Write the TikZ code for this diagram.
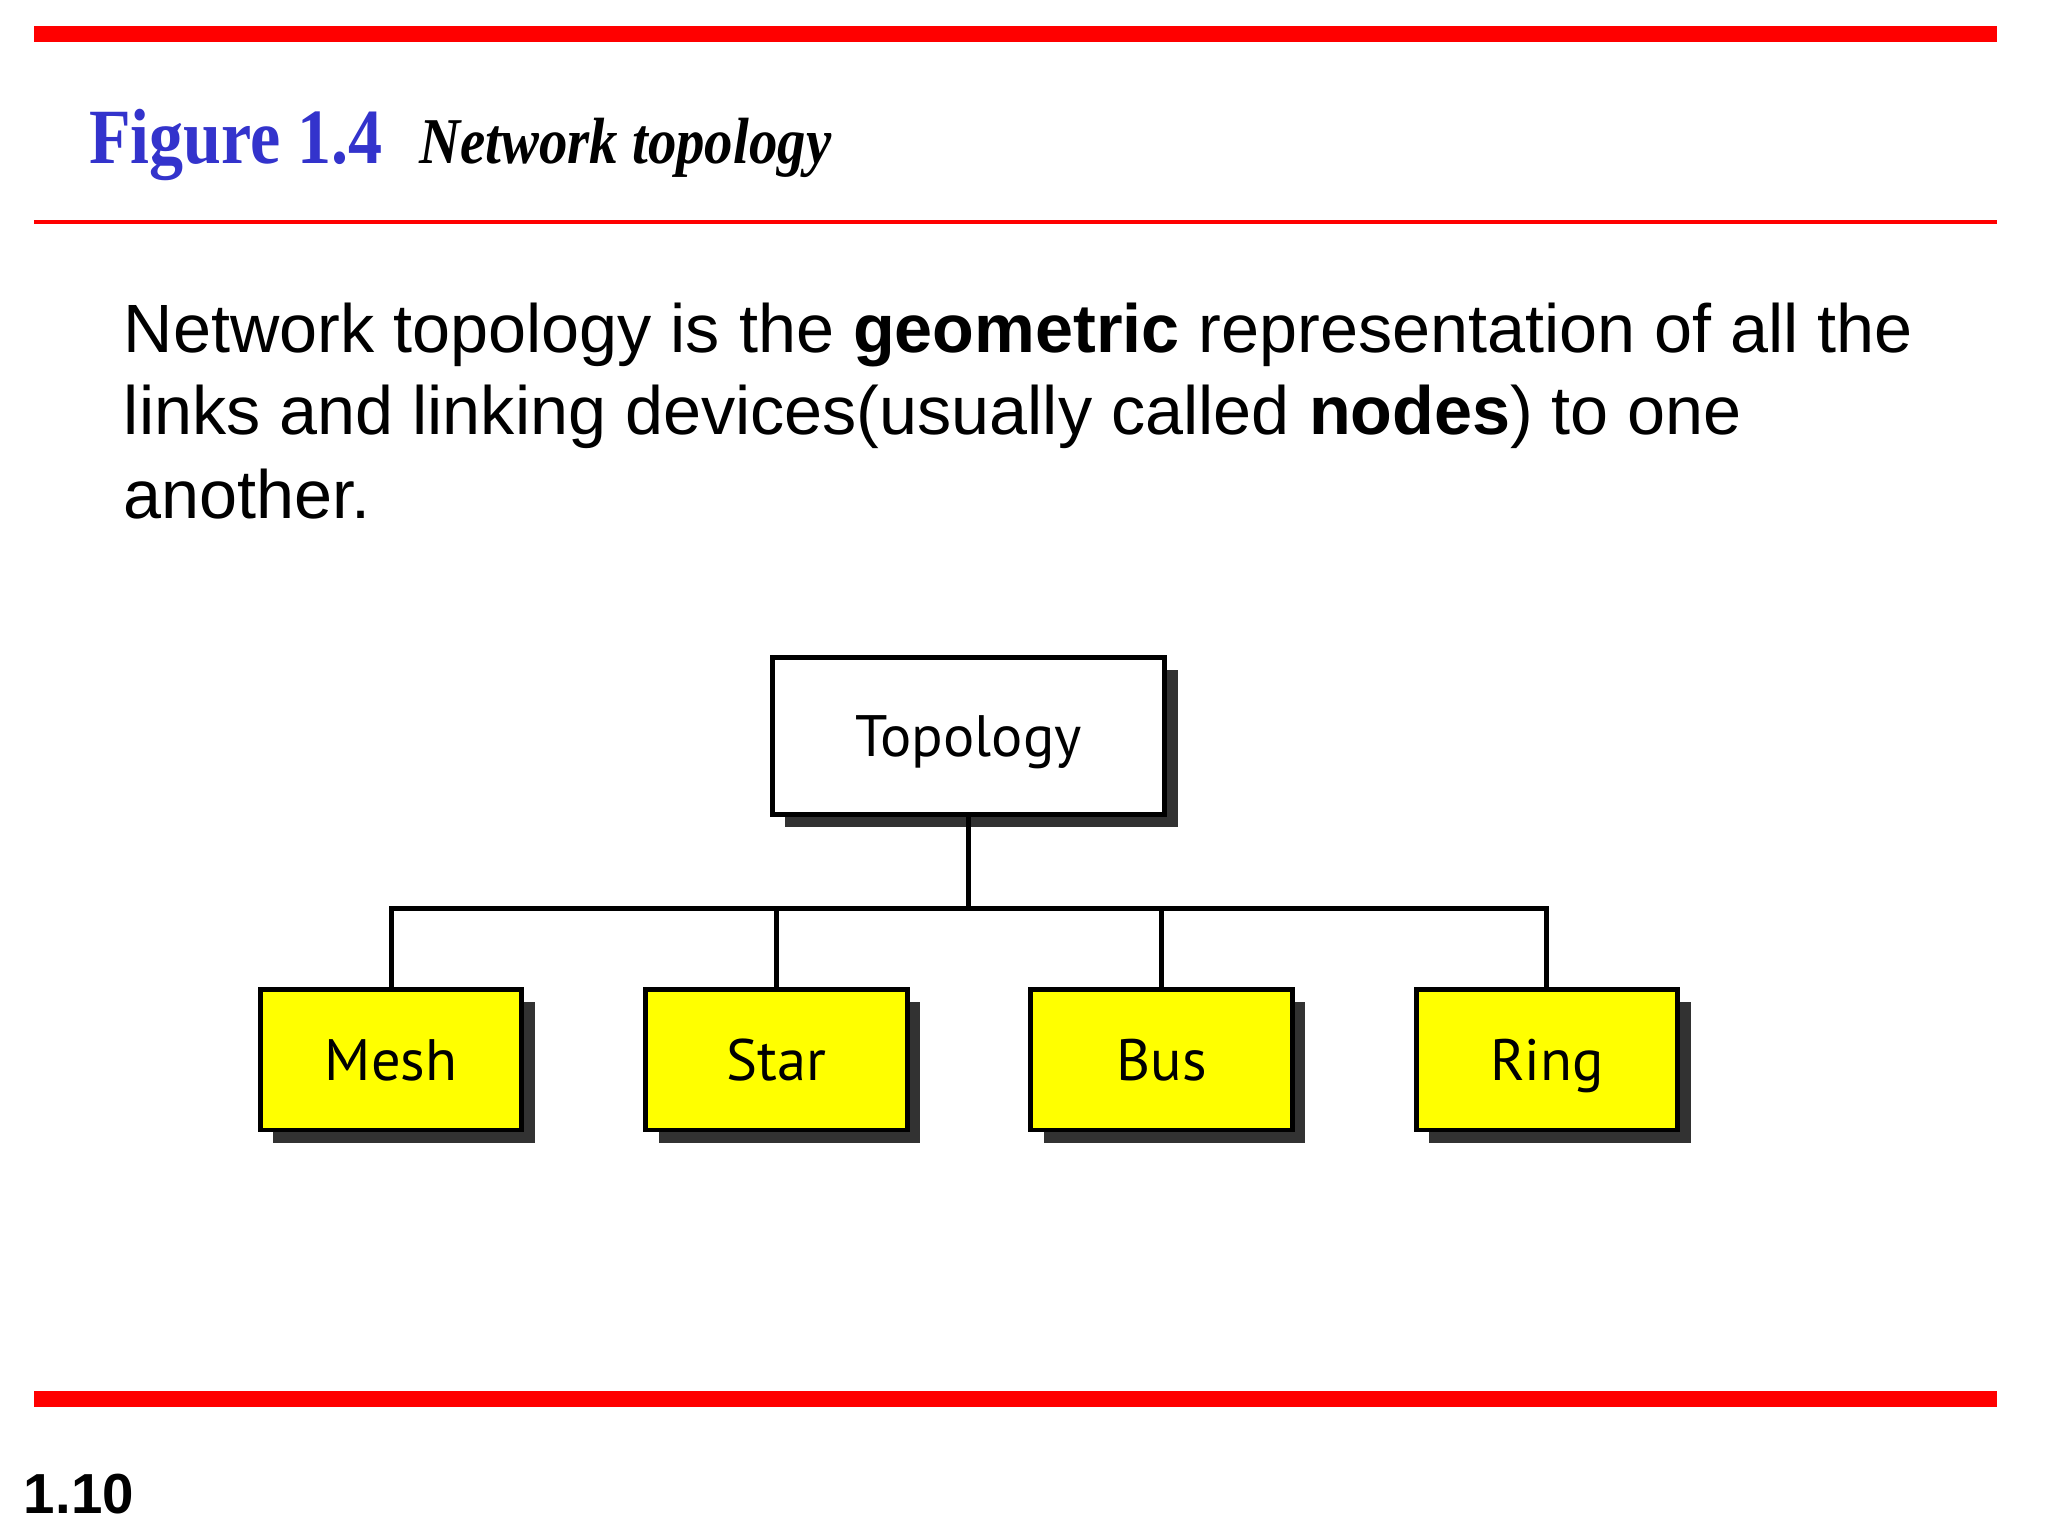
\documentclass[tikz,border=0pt]{standalone}
\usepackage{fontspec}
\setmainfont{Liberation Sans}
\newfontfamily\titlefont[FakeStretch=0.87]{Liberation Serif}
\newfontfamily\boxfont{PT Sans}
\usetikzlibrary{positioning, shadows}
\definecolor{figblue}{RGB}{51,51,204}
\definecolor{barred}{RGB}{255,0,0}
\definecolor{leafyellow}{RGB}{255,255,0}
\definecolor{shadowgray}{RGB}{50,50,50}

\begin{document}
\begin{tikzpicture}[x=1pt, y=-1pt, inner sep=0pt]

\tikzstyle{redbar} = [fill=barred]
\tikzstyle{heading} = [anchor=base west, inner sep=0pt]
\tikzstyle{bodyline} = [anchor=base west, inner sep=0pt, font=\fontsize{69}{84}\selectfont]
\tikzstyle{topbox} = [rectangle, minimum width=396pt, minimum height=158pt, text centered, text height=42pt, text depth=0pt, draw=black, line width=5pt, fill=white, font=\boxfont\fontsize{59}{70}\selectfont, drop shadow={shadow xshift=13pt, shadow yshift=-13pt, fill=shadowgray, opacity=1}]
\tikzstyle{leafbox} = [topbox, minimum width=264pt, minimum height=142pt, fill=leafyellow]
\tikzstyle{link} = [line width=5pt]

\useasboundingbox [fill=white] (0,0) rectangle (2068,1551);

% red rules
\fill [redbar] (34,26) rectangle (2016,42);
\fill [redbar] (34,222) rectangle (2016,226);
\fill [redbar] (34,1405) rectangle (2016,1421);

% title
\node (fig) [heading, text=figblue, font=\titlefont\bfseries\fontsize{79}{90}\selectfont] at (90,165) {Figure 1.4};
\node (figtitle) [heading, base right=36pt of fig, font=\titlefont\bfseries\itshape\fontsize{66}{76}\selectfont] {Network topology};

% text
\node (line1) [bodyline] at (125,356) {Network topology is the \textbf{geometric} representation of all the};
\node (line2) [bodyline] at (125,439) {links and linking devices(usually called \textbf{nodes}) to one};
\node (line3) [bodyline] at (125,524) {another.};

% tree
\node (topo) [topbox] at (978,743) {Topology};
\node (mesh) [leafbox] at (395,1070) {Mesh};
\node (star) [leafbox, right=120pt of mesh] {Star};
\node (bus) [leafbox, right=120pt of star] {Bus};
\node (ring) [leafbox, right=120pt of bus] {Ring};

\draw [link] (topo.south) -- ++(0,93) coordinate (hub);
\draw [link] (hub) -| (mesh.north);
\draw [link] (hub) -| (star.north);
\draw [link] (hub) -| (bus.north);
\draw [link] (hub) -| (ring.north);

\node (pagenum) [heading, font=\bfseries\fontsize{57}{68}\selectfont] at (24,1528) {1.10};
\end{tikzpicture}
\end{document}
